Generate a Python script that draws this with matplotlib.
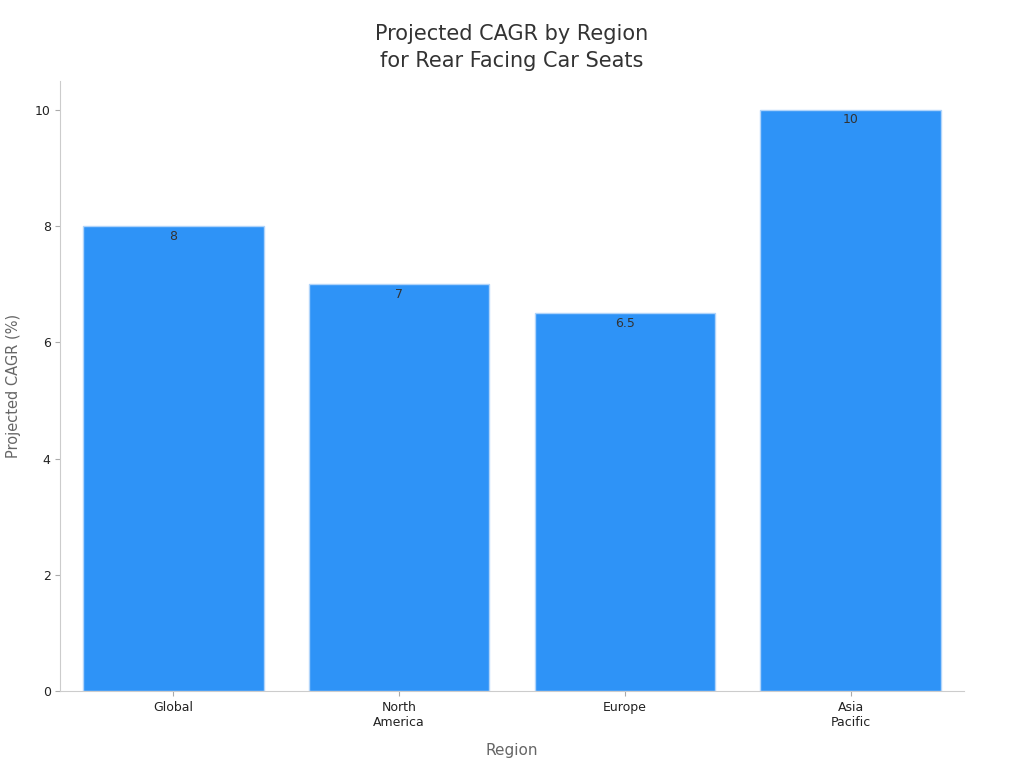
import matplotlib
matplotlib.use("Agg")
import matplotlib.pyplot as plt

regions = ["Global", "North\nAmerica", "Europe", "Asia\nPacific"]
cagr = [8, 7, 6.5, 10]
labels = ["8", "7", "6.5", "10"]

fig, ax = plt.subplots(figsize=(10.24, 7.68), dpi=100)
fig.subplots_adjust(left=0.059, right=0.941, top=0.895, bottom=0.1)
bars = ax.bar(range(len(regions)), cagr, width=0.8, color="#2e93f7", edgecolor="#b0d4fa", linewidth=1)
for b, l in zip(bars, labels):
    ax.text(b.get_x() + b.get_width()/2, b.get_height() - 0.06, l, ha="center", va="top", fontsize=9, color="#333333")
ax.set_xticks(range(len(regions)))
ax.set_xticklabels(regions, fontsize=9, color="#222222")
ax.set_yticks([0, 2, 4, 6, 8, 10])
ax.tick_params(axis="y", labelsize=9, colors="#222222")
ax.tick_params(axis="both", color="#aaaaaa")
ax.set_xlim(-0.5, 3.5)
ax.set_ylim(0, 10.5)
for s in ["top", "right"]:
    ax.spines[s].set_visible(False)
for s in ["left", "bottom"]:
    ax.spines[s].set_color("#cccccc")
ax.set_xlabel("Region", fontsize=11, color="#666666", labelpad=10)
ax.set_ylabel("Projected CAGR (%)", fontsize=10.5, color="#666666", labelpad=10)
ax.set_title("Projected CAGR by Region\nfor Rear Facing Car Seats", fontsize=15, color="#333333", pad=10, linespacing=1.45)
fig.savefig("out.png")
